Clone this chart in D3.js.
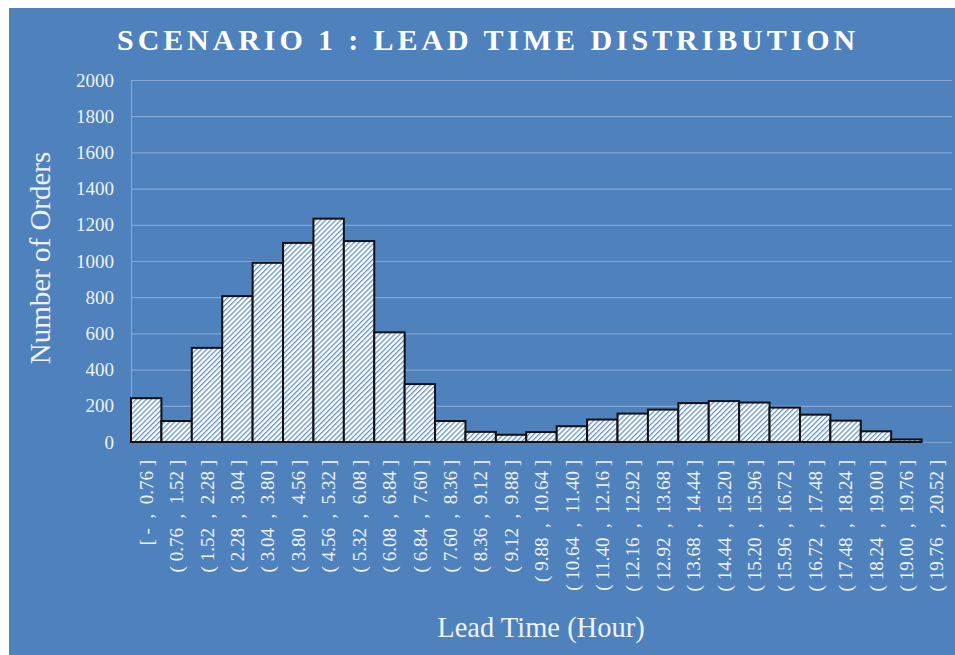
<!DOCTYPE html>
<html><head><meta charset="utf-8">
<script src="https://cdn.jsdelivr.net/npm/d3@7"></script>
<style>body{margin:0;background:#fff;} svg{display:block;}</style>
</head><body>
<svg id="c" width="955" height="655"></svg>
<script>
const categories = ["[ - , 0.76 ]","( 0.76 , 1.52 ]","( 1.52 , 2.28 ]","( 2.28 , 3.04 ]","( 3.04 , 3.80 ]","( 3.80 , 4.56 ]","( 4.56 , 5.32 ]","( 5.32 , 6.08 ]","( 6.08 , 6.84 ]","( 6.84 , 7.60 ]","( 7.60 , 8.36 ]","( 8.36 , 9.12 ]","( 9.12 , 9.88 ]","( 9.88 , 10.64 ]","( 10.64 , 11.40 ]","( 11.40 , 12.16 ]","( 12.16 , 12.92 ]","( 12.92 , 13.68 ]","( 13.68 , 14.44 ]","( 14.44 , 15.20 ]","( 15.20 , 15.96 ]","( 15.96 , 16.72 ]","( 16.72 , 17.48 ]","( 17.48 , 18.24 ]","( 18.24 , 19.00 ]","( 19.00 , 19.76 ]","( 19.76 , 20.52 ]"];
const orders = [242,116,520,806,990,1100,1234,1110,606,320,116,56,40,55,87,124,157,179,215,226,218,190,151,118,59,14,0];
const yTicks = [0,200,400,600,800,1000,1200,1400,1600,1800,2000];

const svg = d3.select("#c");
const W = 955, H = 655;
const bg = "#4f81bd";
svg.append("rect").attr("x",9).attr("y",8).attr("width",W-9).attr("height",H-8).attr("fill",bg);

const defs = svg.append("defs");
const pat = defs.append("pattern").attr("id","hatch").attr("patternUnits","userSpaceOnUse")
  .attr("width",3.6).attr("height",3.6).attr("patternTransform","rotate(45)");
pat.append("rect").attr("width",3.6).attr("height",3.6).attr("fill","#ffffff");
pat.append("rect").attr("x",0).attr("y",0).attr("width",1.3).attr("height",3.6).attr("fill","#6793cc");

const m = {left:131, right:952, top:80, bottom:442};
const x = d3.scaleBand().domain(categories).range([m.left,m.right]).padding(0);
const y = d3.scaleLinear().domain([0,2000]).range([m.bottom,m.top]);

const serif = "'Liberation Serif','DejaVu Serif',serif";
const txt = "#eef3fa";

// gridlines
svg.append("g").selectAll("line").data(yTicks).join("line")
  .attr("x1",m.left).attr("x2",m.right)
  .attr("y1",d=>y(d)+0.5).attr("y2",d=>y(d)+0.5)
  .attr("stroke","#84a7d5").attr("stroke-width",1.2);
svg.append("line").attr("x1",m.left+0.5).attr("x2",m.left+0.5).attr("y1",m.top).attr("y2",m.bottom)
  .attr("stroke","#84a7d5").attr("stroke-width",1.2);

// y axis
const yAxis = d3.axisLeft(y).tickValues(yTicks).tickFormat(d3.format("d")).tickSize(0).tickPadding(17);
const gy = svg.append("g").attr("transform",`translate(${m.left},0)`).call(yAxis);
gy.select(".domain").remove();
gy.attr("font-size",19);
gy.selectAll("text").attr("fill",txt).attr("font-family",serif).attr("font-size",19);

// bars
svg.append("g").selectAll("rect").data(orders).join("rect")
  .attr("x",(d,i)=>x(categories[i]))
  .attr("y",d=>y(d))
  .attr("width",x.bandwidth())
  .attr("height",d=>y(0)-y(d))
  .attr("fill","url(#hatch)")
  .attr("stroke","#111").attr("stroke-width",2);

// x axis
const xAxis = d3.axisBottom(x).tickSize(0).tickPadding(0).tickFormat(d=>d.replace(/ , /g,"  ,  "));
const gx = svg.append("g").attr("transform",`translate(0,${m.bottom})`).call(xAxis);
gx.select(".domain").remove();
gx.attr("font-size",19).attr("font-family",serif);
gx.selectAll("text")
  .attr("fill",txt).attr("font-family",serif).attr("font-size",19)
  .attr("text-anchor","end")
  .attr("transform","rotate(-90)")
  .attr("x",-18).attr("y",0).attr("dy","0.35em").attr("dx",0)
  .style("white-space","pre").attr("xml:space","preserve");

// titles
svg.append("text").attr("x",488).attr("y",50).attr("text-anchor","middle")
  .attr("fill","#ffffff").attr("font-family",serif).attr("font-weight","bold")
  .attr("font-size",30).attr("letter-spacing",3.9).text("SCENARIO 1 : LEAD TIME DISTRIBUTION");
svg.append("text").attr("x",541).attr("y",637).attr("text-anchor","middle")
  .attr("fill",txt).attr("font-family",serif).attr("font-size",28.5).text("Lead Time (Hour)");
svg.append("text").attr("transform","translate(50,258) rotate(-90)").attr("text-anchor","middle")
  .attr("fill",txt).attr("font-family",serif).attr("font-size",29).text("Number of Orders");
</script>
</body></html>
